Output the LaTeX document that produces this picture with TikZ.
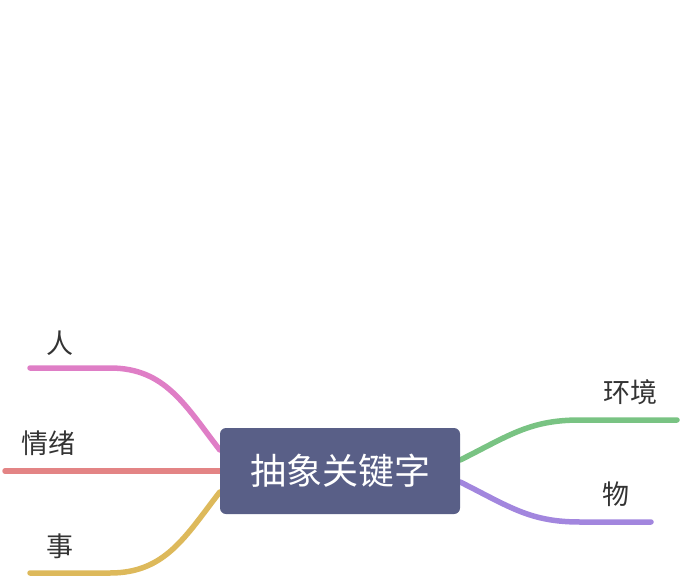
\documentclass[tikz,border=0pt]{standalone}
\usepackage{fontspec}
\newfontfamily\cjk{Noto Sans CJK SC}
\usetikzlibrary{positioning, calc, backgrounds}
\usepackage{xcolor}
\definecolor{MapNavy}{HTML}{595F87}
\definecolor{MapText}{HTML}{333333}
\definecolor{MapPink}{HTML}{DF7EC6}
\definecolor{MapRed}{HTML}{E38485}
\definecolor{MapGold}{HTML}{DDB95B}
\definecolor{MapGreen}{HTML}{79C383}
\definecolor{MapPurple}{HTML}{A286DE}
\tikzset{
    % Box styles
    topic/.style={
        rectangle,
        rounded corners=6pt,
        fill=MapNavy,
        minimum width=240pt,
        minimum height=86pt,
        text=white,
        font=\cjk\fontsize{36}{40}\selectfont
    },
    leaf/.style={
        text=MapText,
        inner sep=0pt,
        font=\cjk\fontsize{27}{30}\selectfont
    },
    % Branch styles - thick round lines
    branch/.style={
        line width=5.5pt,
        line cap=round
    }
}
\begin{document}
\begin{tikzpicture}[x=1pt, y=-1pt]
    \useasboundingbox (0,0) rectangle (680,578);
    \node[topic] (root) at (340,471) {抽象关键字};

    \coordinate (pEnd) at (30,368);
    \coordinate (rEnd) at (5,471);
    \coordinate (gEnd) at (30,573);
    \coordinate (eEnd) at (677,420);
    \coordinate (wEnd) at (651,522);

    \node[leaf] (ren) at (60,343) {人};
    \node[leaf] (qingxu) at (48,443) {情绪};
    \node[leaf] (shi) at (60,546) {事};
    \node[leaf] (huanjing) at (630,392) {环境};
    \node[leaf] (wu) at (616,494) {物};

    \begin{scope}[on background layer]
        \draw[branch, MapPink] ($(root.west)+(0,-21)$) .. controls (185,405) and (165,368) .. (110,368) -- (pEnd);
        \draw[branch, MapRed] (root.west) -- (rEnd);
        \draw[branch, MapGold] ($(root.west)+(0,21)$) .. controls (185,537) and (165,573) .. (110,573) -- (gEnd);
        \draw[branch, MapGreen] ($(root.east)+(0,-11)$) .. controls (510,435) and (530,420) .. (580,420) -- (eEnd);
        \draw[branch, MapPurple] ($(root.east)+(0,11)$) .. controls (510,507) and (530,522) .. (580,522) -- (wEnd);
    \end{scope}
\end{tikzpicture}
\end{document}
